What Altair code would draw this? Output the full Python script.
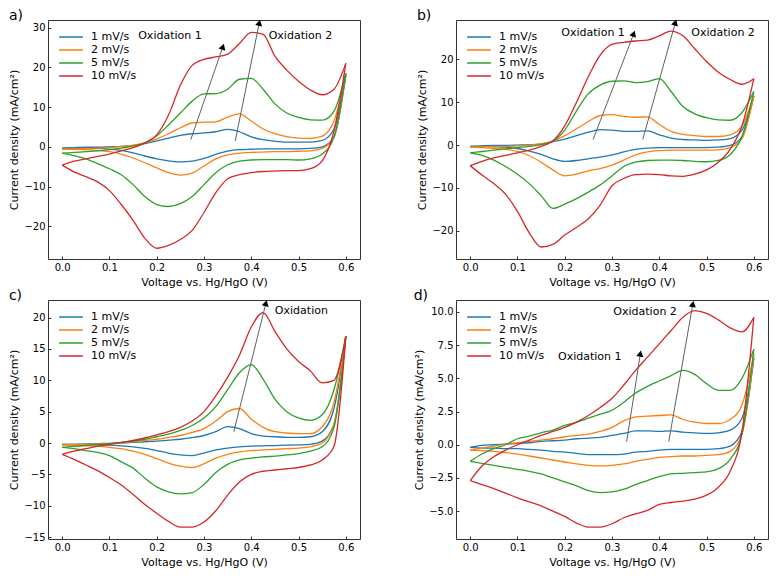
import math
import altair as alt
import pandas as pd

FONT = "DejaVu Sans"
RATES = ["1 mV/s", "2 mV/s", "5 mV/s", "10 mV/s"]
COLORS = ["#1f77b4", "#ff7f0e", "#2ca02c", "#d62728"]

# Voltage sample positions (V vs. Hg/HgO)
V = [0.0, 0.025, 0.05, 0.075, 0.1, 0.125, 0.15, 0.175, 0.2, 0.225, 0.25, 0.275,
     0.3, 0.325, 0.35, 0.375, 0.4, 0.425, 0.45, 0.475, 0.5, 0.525, 0.55, 0.575, 0.6]
X_TICKS = [0.0, 0.1, 0.2, 0.3, 0.4, 0.5, 0.6]

# ---------------- panel a ----------------
A1_UP = [-0.3,-0.2,-0.1,-0.1,0.0,0.1,0.3,0.8,1.5,2.2,2.9,3.3,3.5,3.8,4.4,3.8,2.5,1.8,1.4,1.2,1.2,1.2,1.6,4.5,18.0]
A1_DN = [-0.3,-0.3,-0.3,-0.4,-0.6,-0.9,-1.5,-2.3,-3.0,-3.5,-3.8,-3.6,-2.9,-1.9,-1.1,-0.7,-0.6,-0.5,-0.5,-0.5,-0.5,-0.4,0.0,2.5,18.0]
A2_UP = [-0.6,-0.5,-0.4,-0.3,-0.2,0.1,0.4,1.0,2.0,3.3,4.8,6.0,6.2,6.3,7.5,8.3,6.5,4.5,3.3,2.6,2.2,2.1,2.7,6.5,18.5]
A2_DN = [-0.6,-0.6,-0.7,-0.9,-1.2,-1.8,-2.8,-4.0,-5.3,-6.5,-7.1,-6.6,-4.8,-3.0,-2.0,-1.6,-1.4,-1.3,-1.2,-1.2,-1.1,-1.0,-0.4,2.5,18.5]
A5_UP = [-1.6,-1.4,-1.2,-1.0,-0.7,-0.3,0.2,1.0,2.8,5.5,8.5,11.5,13.3,13.4,14.5,17.0,17.2,14.5,10.8,8.5,7.4,6.8,6.7,9.0,18.5]
A5_DN = [-1.6,-2.2,-3.0,-4.2,-5.5,-7.0,-9.5,-12.5,-14.5,-15.0,-14.3,-12.5,-9.5,-6.5,-4.5,-3.6,-3.3,-3.2,-3.2,-3.2,-3.3,-3.0,-1.8,2.5,18.5]
A10_UP = [-4.6,-3.6,-3.0,-2.4,-1.8,-1.0,-0.2,1.0,3.0,8.0,15.5,20.5,22.0,22.6,23.3,26.0,28.8,28.3,22.8,19.3,16.5,14.3,13.1,14.5,21.0]
A10_DN = [-4.6,-6.3,-7.5,-8.8,-11.0,-14.5,-18.5,-23.0,-25.5,-24.8,-23.3,-21.0,-16.5,-11.5,-8.0,-7.0,-6.5,-6.2,-6.1,-6.0,-6.0,-5.5,-3.5,4.0,21.0]

# ---------------- panel b ----------------
B1_UP = [-0.3,-0.2,-0.1,-0.1,0.0,0.1,0.3,0.8,1.4,2.2,3.0,3.6,3.5,3.2,3.2,3.3,2.4,1.6,1.3,1.2,1.1,1.2,1.5,3.5,11.5]
B1_DN = [-0.3,-0.3,-0.4,-0.5,-0.8,-1.4,-2.2,-3.2,-3.8,-3.6,-3.2,-2.8,-2.3,-1.6,-1.0,-0.7,-0.6,-0.6,-0.6,-0.6,-0.6,-0.5,-0.1,2.0,11.5]
B2_UP = [-0.5,-0.4,-0.3,-0.3,-0.2,0.0,0.3,0.9,2.2,3.8,5.5,6.9,7.1,6.7,6.5,6.6,4.8,3.2,2.5,2.2,2.0,2.0,2.4,4.5,11.5]
B2_DN = [-0.5,-0.6,-0.8,-1.0,-1.5,-2.5,-4.0,-5.8,-7.2,-6.8,-6.0,-5.5,-4.7,-3.5,-2.3,-1.6,-1.3,-1.2,-1.2,-1.2,-1.2,-1.1,-0.6,1.5,11.5]
B5_UP = [-1.8,-1.5,-1.2,-0.9,-0.6,-0.3,0.1,0.9,3.5,8.0,12.0,14.0,14.9,15.0,14.6,14.8,15.5,12.5,9.0,7.3,6.4,5.9,5.8,7.6,12.5]
B5_DN = [-1.8,-2.4,-3.5,-5.0,-6.8,-9.0,-11.8,-14.8,-13.8,-12.5,-11.0,-9.3,-7.2,-5.0,-4.0,-3.6,-3.5,-3.5,-3.6,-3.8,-3.9,-3.6,-2.2,2.0,12.5]
B10_UP = [-4.8,-3.8,-3.0,-2.4,-1.8,-1.2,-0.3,1.0,4.5,10.0,16.0,21.0,23.5,24.0,24.3,24.5,25.5,26.6,25.5,22.5,19.5,17.0,15.3,14.2,15.5]
B10_DN = [-4.8,-7.0,-9.0,-11.5,-15.5,-20.5,-23.8,-23.2,-21.0,-19.2,-17.2,-14.0,-9.5,-7.8,-6.9,-6.8,-6.9,-7.2,-7.3,-6.8,-5.8,-4.0,-1.0,4.5,15.5]

# ---------------- panel c ----------------
C1_UP = [-0.2,-0.2,-0.15,-0.1,-0.05,0.0,0.1,0.2,0.3,0.45,0.6,0.85,1.2,1.8,2.6,2.3,1.5,1.1,1.0,0.9,0.9,1.0,1.8,5.5,17.0]
C1_DN = [-0.2,-0.2,-0.25,-0.3,-0.35,-0.45,-0.6,-0.85,-1.2,-1.6,-1.9,-2.0,-1.6,-1.1,-0.8,-0.6,-0.5,-0.45,-0.4,-0.35,-0.3,-0.2,0.3,3.0,17.0]
C2_UP = [-0.3,-0.25,-0.2,-0.15,-0.1,0.05,0.2,0.4,0.6,0.9,1.2,1.7,2.3,3.5,5.0,5.5,3.8,2.5,1.8,1.6,1.5,1.5,2.6,6.5,17.0]
C2_DN = [-0.3,-0.35,-0.4,-0.5,-0.7,-0.9,-1.3,-1.8,-2.5,-3.2,-3.7,-3.9,-3.3,-2.4,-1.8,-1.4,-1.2,-1.1,-1.0,-0.9,-0.8,-0.6,0.0,3.0,17.0]
C5_UP = [-0.7,-0.55,-0.4,-0.25,-0.1,0.1,0.3,0.6,1.0,1.4,2.0,2.8,4.0,5.8,8.5,11.2,12.5,10.2,7.0,5.0,4.0,3.6,4.5,8.5,17.0]
C5_DN = [-0.7,-0.9,-1.2,-1.5,-2.0,-3.0,-4.0,-5.6,-7.0,-7.8,-8.1,-7.9,-6.6,-4.7,-3.4,-2.7,-2.4,-2.2,-2.1,-1.9,-1.7,-1.3,-0.6,2.5,17.0]
C10_UP = [-1.8,-1.3,-0.9,-0.5,-0.2,0.1,0.4,0.8,1.3,1.8,2.5,3.5,5.0,7.5,10.5,14.0,18.5,20.8,17.8,15.0,13.0,11.5,9.6,10.0,17.0]
C10_DN = [-1.8,-2.6,-3.5,-4.4,-5.5,-6.7,-8.2,-9.8,-11.2,-12.5,-13.4,-13.4,-12.6,-10.8,-8.3,-6.2,-5.0,-4.5,-4.3,-4.1,-3.9,-3.5,-2.7,-0.5,17.0]

# ---------------- panel d ----------------
D1_UP = [-0.2,-0.05,0.0,0.05,0.1,0.15,0.25,0.3,0.35,0.45,0.5,0.55,0.7,0.85,1.05,1.05,1.0,1.05,0.95,0.9,0.85,0.9,1.1,2.0,6.5]
D1_DN = [-0.2,-0.25,-0.25,-0.3,-0.3,-0.35,-0.4,-0.5,-0.55,-0.65,-0.75,-0.75,-0.75,-0.7,-0.55,-0.5,-0.4,-0.35,-0.35,-0.35,-0.35,-0.3,-0.1,1.0,6.5]
D2_UP = [-0.4,-0.25,-0.1,0.05,0.15,0.25,0.35,0.45,0.6,0.7,0.8,1.0,1.3,1.8,2.1,2.15,2.2,2.25,1.9,1.7,1.6,1.6,1.9,3.0,6.8]
D2_DN = [-0.4,-0.45,-0.5,-0.6,-0.7,-0.85,-1.0,-1.15,-1.3,-1.45,-1.55,-1.6,-1.55,-1.45,-1.25,-1.1,-0.95,-0.9,-0.85,-0.85,-0.8,-0.75,-0.5,0.8,6.8]
D5_UP = [-1.25,-0.7,-0.3,0.0,0.45,0.65,0.9,1.1,1.45,1.7,2.0,2.3,2.6,3.2,3.9,4.4,4.8,5.2,5.6,5.3,4.6,4.1,4.1,5.0,7.2]
D5_DN = [-1.25,-1.4,-1.55,-1.7,-1.85,-2.0,-2.2,-2.5,-2.8,-3.1,-3.45,-3.6,-3.55,-3.35,-3.0,-2.7,-2.4,-2.2,-2.15,-2.1,-2.05,-1.8,-1.1,0.8,7.2]
D10_UP = [-2.7,-1.6,-0.9,-0.4,0.0,0.35,0.7,1.0,1.3,1.7,2.2,2.8,3.5,4.5,5.6,6.6,7.6,8.6,9.6,10.1,9.9,9.4,8.8,8.5,9.6]
D10_DN = [-2.7,-3.0,-3.3,-3.65,-4.0,-4.3,-4.6,-5.0,-5.4,-5.9,-6.2,-6.2,-5.95,-5.5,-5.2,-4.95,-4.5,-4.35,-4.25,-4.1,-3.8,-3.2,-2.0,1.0,9.6]

# Annotations: arrows (start V, start J, end V, end J) and labels
A_ARROWS = [(0.272, 1.8, 0.340, 25.2), (0.366, 1.45, 0.417, 31.2)]
A_TEXTS = [(0.228, 28.0, "Oxidation 1"), (0.504, 28.0, "Oxidation 2")]
B_ARROWS = [(0.260, 1.3, 0.346, 26.0), (0.365, 1.3, 0.434, 28.6)]
B_TEXTS = [(0.260, 26.1, "Oxidation 1"), (0.535, 26.1, "Oxidation 2")]
C_ARROWS = [(0.363, 1.8, 0.431, 22.3)]
C_TEXTS = [(0.506, 21.1, "Oxidation")]
D_ARROWS = [(0.331, 0.23, 0.360, 6.86), (0.420, 0.23, 0.471, 10.6)]
D_TEXTS = [(0.253, 6.57, "Oxidation 1"), (0.370, 10.0, "Oxidation 2")]

W, H = 312, 239
X_DOM = [-0.03, 0.63]


def panel(label, ups, dns, ydom, yticks, yfmt, arrows, texts):
    rows = []
    for rate, up, dn in zip(RATES, ups, dns):
        for v, j in zip(V, up):
            rows.append({"V": v, "J": j, "rate": rate, "branch": "up"})
        for v, j in zip(V, dn):
            rows.append({"V": v, "J": j, "rate": rate, "branch": "down"})
    df = pd.DataFrame(rows)

    xs = alt.Scale(domain=X_DOM, nice=False, zero=False)
    ys = alt.Scale(domain=ydom, nice=False, zero=False)
    xax = alt.Axis(values=X_TICKS, format=".1f", title="Voltage vs. Hg/HgO (V)", offset=-3)
    yax = alt.Axis(values=yticks, format=yfmt, title="Current density (mA/cm²)", offset=-3)

    lines = alt.Chart(df).mark_line(strokeWidth=1.3, interpolate="monotone").encode(
        x=alt.X("V:Q", scale=xs, axis=xax),
        y=alt.Y("J:Q", scale=ys, axis=yax),
        color=alt.Color(
            "rate:N",
            scale=alt.Scale(domain=RATES, range=COLORS),
            sort=RATES,
            legend=alt.Legend(
                title=None, orient="none", legendX=15, legendY=9,
                symbolType="M-1.7,0H1.7", symbolSize=196, symbolStrokeWidth=1.5,
                labelFont=FONT, labelFontSize=11, labelOffset=12, rowPadding=0,
                padding=0, labelColor="black",
            ),
        ),
        detail="branch:N",
    )

    pxv = W / (X_DOM[1] - X_DOM[0])
    pxj = H / (ydom[1] - ydom[0])
    adf = pd.DataFrame(
        [{"V": a[0], "J": a[1], "V2": a[2], "J2": a[3]} for a in arrows]
    )
    hdf = pd.DataFrame(
        [{"V": a[2], "J": a[3],
          "ang": math.degrees(math.atan2((a[2] - a[0]) * pxv, (a[3] - a[1]) * pxj))}
         for a in arrows]
    )
    tdf = pd.DataFrame([{"V": t[0], "J": t[1], "t": t[2]} for t in texts])

    rule = alt.Chart(adf).mark_rule(color="#606060", strokeWidth=1).encode(
        x=alt.X("V:Q", scale=xs, axis=xax), y=alt.Y("J:Q", scale=ys, axis=yax),
        x2="V2:Q", y2="J2:Q",
    )
    heads = alt.Chart(hdf).mark_point(
        shape="triangle-up", filled=True, color="black", size=50, opacity=1
    ).encode(
        x=alt.X("V:Q", scale=xs, axis=xax), y=alt.Y("J:Q", scale=ys, axis=yax),
        angle=alt.Angle("ang:Q", scale=None),
    )
    txt = alt.Chart(tdf).mark_text(
        font=FONT, fontSize=11, color="black", align="center", baseline="middle"
    ).encode(
        x=alt.X("V:Q", scale=xs, axis=xax), y=alt.Y("J:Q", scale=ys, axis=yax),
        text="t:N",
    )
    return alt.layer(lines, rule, heads, txt).properties(
        width=W, height=H,
        title=alt.TitleParams(label, anchor="start", frame="bounds", fontSize=14,
                              fontWeight="normal", font=FONT, offset=-3, color="black"),
    )


pa = panel("a)", [A1_UP, A2_UP, A5_UP, A10_UP], [A1_DN, A2_DN, A5_DN, A10_DN],
           [-28.2, 31.9], [-20, -10, 0, 10, 20, 30], "d", A_ARROWS, A_TEXTS)
pb = panel("b)", [B1_UP, B2_UP, B5_UP, B10_UP], [B1_DN, B2_DN, B5_DN, B10_DN],
           [-26.6, 29.2], [-20, -10, 0, 10, 20], "d", B_ARROWS, B_TEXTS)
pc = panel("c)", [C1_UP, C2_UP, C5_UP, C10_UP], [C1_DN, C2_DN, C5_DN, C10_DN],
           [-15.3, 22.8], [-15, -10, -5, 0, 5, 10, 15, 20], "d", C_ARROWS, C_TEXTS)
pd_ = panel("d)", [D1_UP, D2_UP, D5_UP, D10_UP], [D1_DN, D2_DN, D5_DN, D10_DN],
            [-7.1, 10.9], [-5.0, -2.5, 0.0, 2.5, 5.0, 7.5, 10.0], ".1f", D_ARROWS, D_TEXTS)

chart = alt.concat(pa, pb, pc, pd_, columns=2, spacing={"row": 0, "column": 52}).resolve_scale(
    x="independent", y="independent", color="independent"
).properties(padding=0).configure(font=FONT).configure_axis(
    labelFont=FONT, labelFontSize=10, labelColor="black", labelPadding=3,
    titleFont=FONT, titleFontSize=11, titleFontWeight="normal", titleColor="black",
    titlePadding=4, grid=False, domain=False, ticks=True, tickSize=3,
    tickColor="#333333", tickWidth=1,
).configure_view(stroke="#333333", strokeWidth=1)

chart.save("out.html", embed_options={"renderer": "svg", "actions": False})
